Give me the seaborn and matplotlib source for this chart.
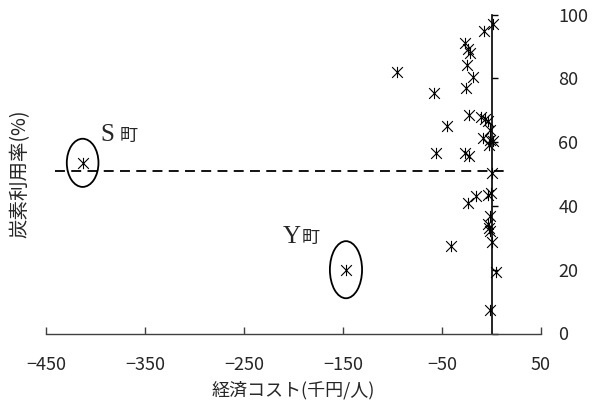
import matplotlib
matplotlib.use("Agg")
import matplotlib.pyplot as plt
import seaborn as sns
from matplotlib.path import Path
from matplotlib.patches import Ellipse

# 市町村ごとの経済コスト(千円/人)と炭素利用率(%)
cost = [1.3, -8, -27, -24, -22, -25, -19, -26, -95.5, -58, -45, -56.5, -40.5,
        -23, -10.5, -7, -4, -1.5, -9, -2, 1.3, -3, -27, -23, 0.7,
        -24, -15.5, -4, -0.3, -2, -4, -3, -2, 0.3, 4.7, -2]
rate = [97.1, 94.7, 91.2, 89.2, 87.9, 84.2, 80.4, 76.9, 82.1, 75.4, 65.1, 56.6, 27.3,
        68.6, 68.0, 67.3, 66.7, 63.9, 61.3, 60.7, 60.2, 59.2, 56.6, 55.5, 50.3,
        40.9, 43.0, 43.5, 44.0, 36.7, 34.4, 33.0, 32.0, 28.7, 19.4, 7.4]

# 注目する町
town_names = ["S", "Y"]
town_cost = [-413, -147]
town_rate = [53.5, 20.0]

# 平均の炭素利用率(破線)
avg_rate = 51
avg_span = [-441, 19]

x_ticks = [-450, -350, -250, -150, -50, 50]
y_ticks = [0, 20, 40, 60, 80, 100]

sns.set_theme(style="white")
plt.rcParams['font.family'] = ['Noto Sans CJK JP', 'DejaVu Sans']
plt.rcParams['axes.unicode_minus'] = True

fig = plt.figure(figsize=(5.95, 4.01), dpi=100)
ax = fig.add_axes([46 / 595, 67.5 / 401, 495 / 595, 319 / 401])

# Excel風の * マーカー (× + |)
star = Path([(-1, -1), (1, 1), (-1, 1), (1, -1), (0, -1.05), (0, 1.05)],
            [Path.MOVETO, Path.LINETO, Path.MOVETO, Path.LINETO, Path.MOVETO, Path.LINETO])

sns.scatterplot(x=cost + town_cost, y=rate + town_rate, marker=star, s=66,
                color="black", edgecolor="black", linewidth=0.8,
                clip_on=False, zorder=4, ax=ax)

ax.hlines(avg_rate, avg_span[0], avg_span[1], colors="black", lw=1.3,
          linestyles=(0, (5.5, 3.5)), zorder=3)

# 町の囲みとラベル
ell_size = [(32, 15.1), (32.5, 17.9)]
name_off = [(12.5, 16), (-45.6, 19.2)]
for name, x, y, (w, h), (dx, dy) in zip(town_names, town_cost, town_rate, ell_size, name_off):
    ax.add_patch(Ellipse((x, y), w, h, fill=False, ec="black", lw=1.3, zorder=4, clip_on=False))
    ax.annotate(name, (x, y), xytext=(dx, dy), textcoords="offset points",
                ha="left", va="baseline", fontsize=18, family="Liberation Serif")
    ax.annotate("町", (x, y), xytext=(dx + 14, dy), textcoords="offset points",
                ha="left", va="baseline", fontsize=13)

ax.set_xlim(-450, 50)
ax.set_ylim(0, 100)
ax.set_xticks(x_ticks)
ax.set_yticks(y_ticks)

for s in ["top", "left"]:
    ax.spines[s].set_visible(False)
ax.spines["bottom"].set_color("#404040")
ax.spines["bottom"].set_linewidth(1.0)
ax.spines["right"].set_position(("data", 0))
ax.spines["right"].set_color("black")
ax.spines["right"].set_linewidth(1.2)
ax.yaxis.tick_right()

ax.tick_params(axis="x", direction="in", length=5, width=1, color="#404040",
               pad=16, labelsize=13, bottom=True)
ax.tick_params(axis="y", direction="out", length=4, width=1, color="black",
               pad=44, labelsize=13, right=True)

ax.set_xlabel("経済コスト(千円/人)", fontsize=13)
ax.xaxis.set_label_coords(0.5, -0.15)
ax.set_ylabel("炭素利用率(%)", fontsize=14)
ax.yaxis.set_label_coords(-0.0525, 0.5)
ax.yaxis.label.set_va("center")

fig.savefig("out.png", dpi=100)
